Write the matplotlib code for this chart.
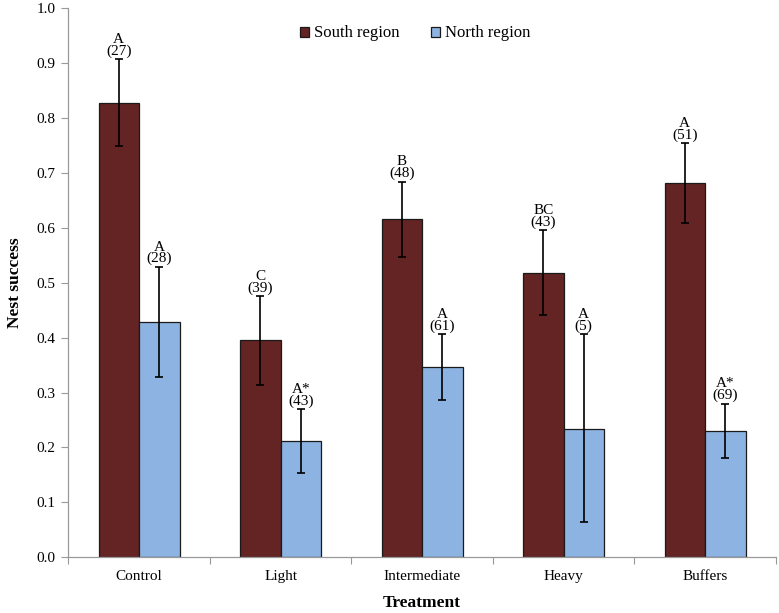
import matplotlib
matplotlib.use("Agg")
import matplotlib.pyplot as plt
import numpy as np

categories = ["Control", "Light", "Intermediate", "Heavy", "Buffers"]
series_names = ["South region", "North region"]
south = [0.828, 0.395, 0.616, 0.518, 0.681]
south_upper = [0.907, 0.476, 0.684, 0.596, 0.754]
south_lower = [0.750, 0.314, 0.547, 0.441, 0.609]
north = [0.429, 0.212, 0.346, 0.234, 0.230]
north_upper = [0.529, 0.270, 0.406, 0.406, 0.280]
north_lower = [0.328, 0.154, 0.287, 0.064, 0.180]
south_letters = ["A", "C", "B", "BC", "A"]
south_n = [27, 39, 48, 43, 51]
north_letters = ["A", "A*", "A", "A", "A*"]
north_n = [28, 43, 61, 5, 69]

plt.rcParams['font.family'] = ['Liberation Serif', 'DejaVu Serif']

fig = plt.figure(figsize=(7.79, 6.13), dpi=100)
ax = fig.add_axes([0.0877, 0.0909, 0.9082, 0.8956])

x = np.arange(len(categories))
w = 0.286
c_south = "#632423"
c_north = "#8DB3E2"

def draw(vals, up, lo, offs, color, label, letters, ns):
    vals = np.array(vals); up = np.array(up); lo = np.array(lo)
    pos = x + offs
    ax.bar(pos, vals, w, color=color, edgecolor="#1a1a1a", linewidth=0.9, label=label, zorder=2)
    ax.errorbar(pos, vals, yerr=[vals - lo, up - vals], fmt='none', ecolor='black',
                elinewidth=1.2, capsize=3, capthick=1.2, zorder=3)
    for p, u, l, n in zip(pos, up, letters, ns):
        ax.annotate(f"{l}\n({n})", (p, u), xytext=(0, 1), textcoords='offset points',
                    ha='center', va='bottom', fontsize=11, linespacing=0.85)

draw(south, south_upper, south_lower, -w/2, c_south, series_names[0], south_letters, south_n)
draw(north, north_upper, north_lower, w/2, c_north, series_names[1], north_letters, north_n)

ax.set_xlim(-0.5, len(categories) - 0.5)
ax.set_ylim(0, 1.0)
ax.set_yticks(np.arange(0, 1.01, 0.1))
ax.set_yticklabels([f"{v:.1f}" for v in np.arange(0, 1.01, 0.1)], fontsize=11)
ax.set_xticks(np.arange(-0.5, len(categories), 1.0))
ax.set_xticklabels([])
ax.set_xticks(x, minor=True)
ax.set_xticklabels(categories, minor=True, fontsize=11)
ax.tick_params(axis='x', which='minor', length=0, pad=9)
ax.tick_params(axis='x', which='major', length=5, color='#999999', direction='out')
ax.tick_params(axis='y', length=5, color='#999999', direction='out', pad=4)

for s in ['top', 'right']:
    ax.spines[s].set_visible(False)
for s in ['left', 'bottom']:
    ax.spines[s].set_color('#999999')
    ax.spines[s].set_linewidth(0.9)

ax.set_ylabel("Nest success", fontsize=12.5, fontweight='bold', labelpad=10)
ax.set_xlabel("Treatment", fontsize=12.5, fontweight='bold', labelpad=9)

leg = ax.legend(loc='upper center', bbox_to_anchor=(0.49, 0.99), ncol=2, frameon=False,
                fontsize=12, handlelength=0.55, handleheight=0.55, handletextpad=0.3,
                columnspacing=1.9, borderaxespad=0.3)

fig.savefig("out.png", dpi=100)
